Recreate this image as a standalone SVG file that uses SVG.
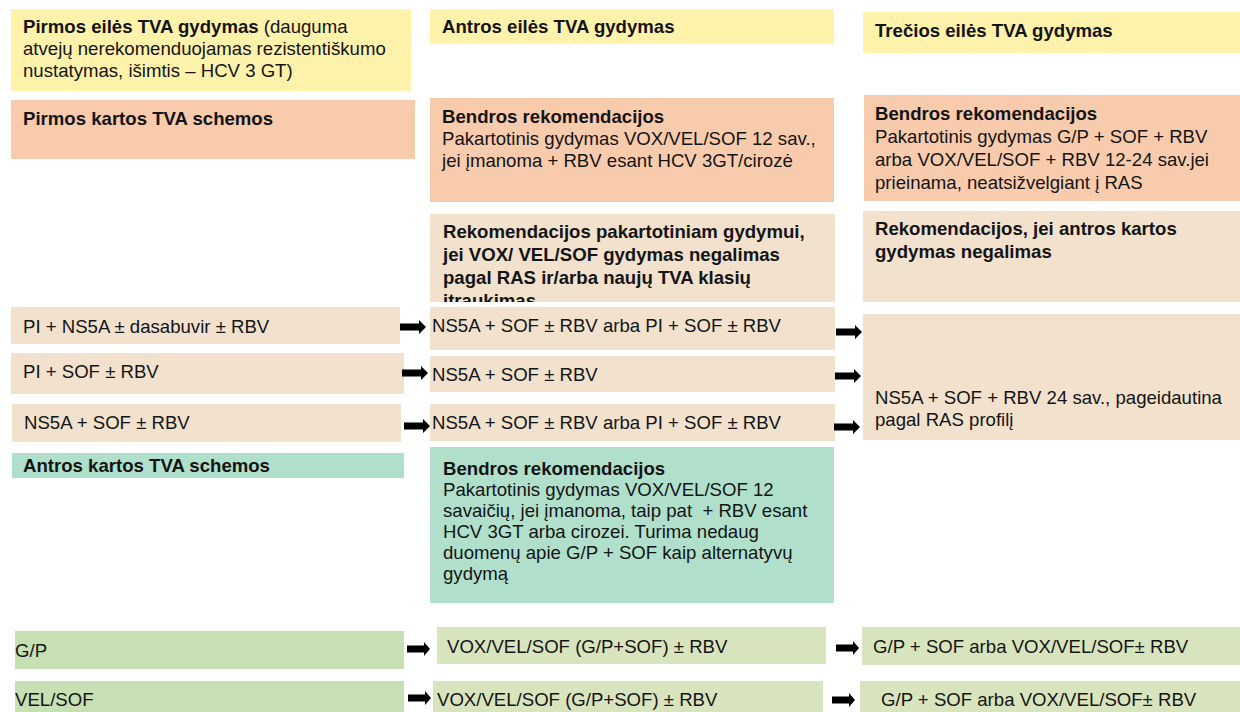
<svg xmlns="http://www.w3.org/2000/svg" width="1240" height="712" viewBox="0 0 1240 712">
<style>
text{font-family:"Liberation Sans",Arial,sans-serif;font-size:18.6px;fill:#141414}
.b{font-weight:bold}
.pre{white-space:pre}
.yel{fill:#FFF2AB}
.pea{fill:#F9CBAD}
.bei{fill:#F2E1CD}
.min{fill:#B0E0CB}
.gr1{fill:#C6E0B4}
.gr2{fill:#D8E4BE}
.arr{fill:#000}
</style>
<defs>
<path id="arrow" d="M0,-3.5 H19 V-7 L26,0 L19,7 V3.5 H0 Z"/>
<path id="arrowS" d="M0,-3.5 H17 V-7 L23,0 L17,7 V3.5 H0 Z"/>
<clipPath id="clip7"><rect x="430" y="214" width="405" height="88"/></clipPath>
</defs>
<rect width="1240" height="712" fill="#fff"/>

<g id="n1"><rect class="yel" x="11" y="9" width="400" height="82"/>
<text x="23" y="33"><tspan class="b">Pirmos eilės TVA gydymas</tspan> (dauguma<tspan x="23" dy="22">atvejų nerekomenduojamas rezistentiškumo</tspan><tspan x="23" dy="22">nustatymas, išimtis – HCV 3 GT)</tspan></text></g>
<g id="n2"><rect class="yel" x="430" y="9" width="404" height="35"/>
<text class="b" x="442" y="33">Antros eilės TVA gydymas</text></g>
<g id="n3"><rect class="yel" x="863" y="12" width="377" height="41"/>
<text class="b" x="875" y="37">Trečios eilės TVA gydymas</text></g>

<g id="n4"><rect class="pea" x="11" y="100" width="404" height="59"/>
<text class="b" x="23" y="125">Pirmos kartos TVA schemos</text></g>
<g id="n5"><rect class="pea" x="430" y="98" width="404" height="104"/>
<text x="442" y="123"><tspan class="b">Bendros rekomendacijos</tspan><tspan x="442" dy="22">Pakartotinis gydymas VOX/VEL/SOF 12 sav.,</tspan><tspan x="442" dy="22">jei įmanoma + RBV esant HCV 3GT/cirozė</tspan></text></g>
<g id="n6"><rect class="pea" x="864" y="95" width="376" height="106"/>
<text x="875" y="120"><tspan class="b">Bendros rekomendacijos</tspan><tspan x="875" dy="23">Pakartotinis gydymas G/P + SOF + RBV</tspan><tspan x="875" dy="23">arba VOX/VEL/SOF + RBV 12-24 sav.jei</tspan><tspan x="875" dy="23">prieinama, neatsižvelgiant į RAS</tspan></text></g>

<g id="n7"><rect class="bei" x="430" y="214" width="405" height="88"/>
<text class="b" x="443" y="238" clip-path="url(#clip7)">Rekomendacijos pakartotiniam gydymui,<tspan x="443" dy="23">jei VOX/ VEL/SOF gydymas negalimas</tspan><tspan x="443" dy="23">pagal RAS ir/arba naujų TVA klasių</tspan><tspan x="443" dy="23">itraukimas</tspan></text></g>
<g id="n8"><rect class="bei" x="863" y="211" width="377" height="91"/>
<text class="b" x="875" y="235">Rekomendacijos, jei antros kartos<tspan x="875" dy="23">gydymas negalimas</tspan></text></g>

<g id="n9"><rect class="bei" x="11" y="307" width="389" height="37"/>
<text x="23" y="333">PI + NS5A ± dasabuvir ± RBV</text></g>
<g id="n10"><rect class="bei" x="11" y="353" width="393" height="41"/>
<text x="23" y="378">PI + SOF ± RBV</text></g>
<g id="n11"><rect class="bei" x="12" y="404" width="389" height="38"/>
<text x="24" y="429">NS5A + SOF ± RBV</text></g>

<g id="n12"><rect class="bei" x="430" y="307" width="405" height="43"/>
<text x="432" y="332">NS5A + SOF ± RBV arba PI + SOF ± RBV</text></g>
<g id="n13"><rect class="bei" x="430" y="356" width="405" height="36"/>
<text x="432" y="381">NS5A + SOF ± RBV</text></g>
<g id="n14"><rect class="bei" x="430" y="404" width="405" height="37"/>
<text x="432" y="429">NS5A + SOF ± RBV arba PI + SOF ± RBV</text></g>

<g id="n15"><rect class="bei" x="863" y="314" width="377" height="126"/>
<text x="875" y="404">NS5A + SOF + RBV 24 sav., pageidautina<tspan x="875" dy="22">pagal RAS profilį</tspan></text></g>

<g id="n16"><rect class="min" x="12" y="453" width="392" height="25"/>
<text class="b" x="23" y="472">Antros kartos TVA schemos</text></g>
<g id="n17"><rect class="min" x="430" y="447" width="404" height="156"/>
<text x="443" y="475"><tspan class="b">Bendros rekomendacijos</tspan><tspan x="443" dy="21">Pakartotinis gydymas VOX/VEL/SOF 12</tspan><tspan class="pre" x="443" dy="21">savaičių, jei įmanoma, taip pat  + RBV esant</tspan><tspan x="443" dy="21">HCV 3GT arba cirozei. Turima nedaug</tspan><tspan x="443" dy="21">duomenų apie G/P + SOF kaip alternatyvų</tspan><tspan x="443" dy="21">gydymą</tspan></text></g>

<g id="n18"><rect class="gr1" x="15" y="631" width="389" height="38"/>
<text x="15" y="657">G/P</text></g>
<g id="n19"><rect class="gr1" x="15" y="681" width="389" height="31"/>
<text x="15" y="706">VEL/SOF</text></g>
<g id="n20"><rect class="gr2" x="437" y="627" width="389" height="37"/>
<text x="447" y="653">VOX/VEL/SOF (G/P+SOF) ± RBV</text></g>
<g id="n21"><rect class="gr2" x="433" y="681" width="390" height="31"/>
<text x="437" y="706">VOX/VEL/SOF (G/P+SOF) ± RBV</text></g>
<g id="n22"><rect class="gr2" x="862" y="627" width="378" height="38"/>
<text x="873" y="653">G/P + SOF arba VOX/VEL/SOF± RBV</text></g>
<g id="n23"><rect class="gr2" x="860" y="681" width="380" height="31"/>
<text x="881" y="706">G/P + SOF arba VOX/VEL/SOF± RBV</text></g>

<g id="connectors" class="arr">
<use href="#arrow" transform="translate(400,327)"/>
<use href="#arrow" transform="translate(402,373)"/>
<use href="#arrow" transform="translate(404,426)"/>
<use href="#arrow" transform="translate(836,332)"/>
<use href="#arrow" transform="translate(835,376)"/>
<use href="#arrow" transform="translate(834,427)"/>
<use href="#arrowS" transform="translate(407,649)"/>
<use href="#arrowS" transform="translate(408,698)"/>
<use href="#arrowS" transform="translate(836,648)"/>
<use href="#arrowS" transform="translate(832,700)"/>
</g>
</svg>
